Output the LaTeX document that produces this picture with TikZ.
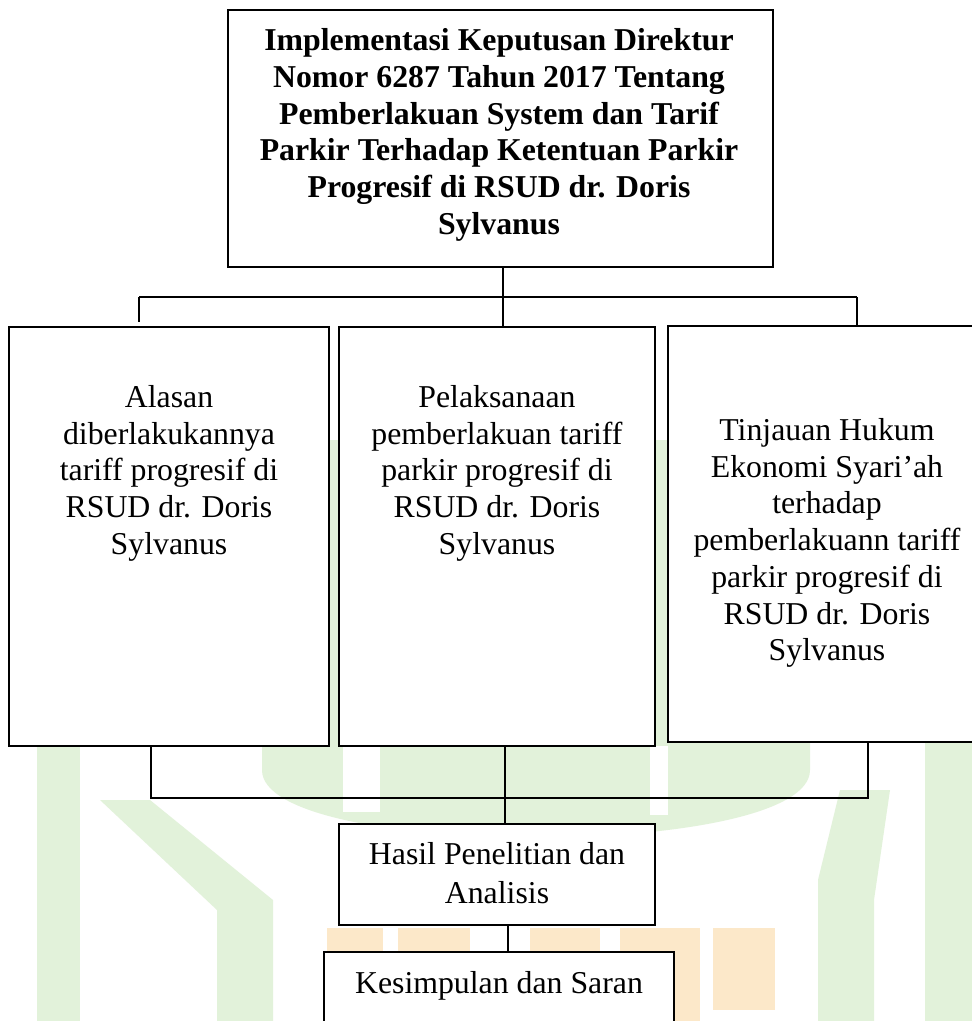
\documentclass[tikz,border=0pt]{standalone}
\usepackage{fontspec}
\setmainfont{Liberation Serif}
\definecolor{wmgreen}{HTML}{E2F2DA}
\definecolor{wmorange}{HTML}{FCE8C9}
\begin{document}
\begin{tikzpicture}[x=1pt,y=-1pt,
  box/.style={draw=black, line width=1.8pt, fill=white, inner sep=0pt, rectangle},
  txt/.style={align=center, inner sep=0pt, anchor=north, font=\fontsize{31.8}{36.7}\selectfont},
  link/.style={draw=black, line width=1.8pt}]
\useasboundingbox[fill=white] (0,0) rectangle (972,1021);
% faint watermark
\fill[wmgreen] (262,440) -- (810,440) -- (810,770) .. controls (810,860) and (262,860) .. (262,770) -- cycle;
\fill[white] (343,746) rectangle (380,812);
\fill[white] (650,746) rectangle (668,815);
\fill[wmgreen] (37,746) rectangle (80,1021);
\fill[wmgreen] (100,800) -- (150,800) -- (273,900) -- (273,1021) -- (217,1021) -- (217,910) -- cycle;
\fill[wmgreen] (890,790) -- (840,790) -- (818,880) -- (818,1021) -- (874,1021) -- (874,900) -- cycle;
\fill[wmgreen] (925,742) rectangle (972,1021);
\fill[wmorange] (327,928) rectangle (383,1021);
\fill[wmorange] (398,928) rectangle (470,1021);
\fill[wmorange] (530,928) rectangle (600,1021);
\fill[wmorange] (620,928) rectangle (700,1021);
\fill[wmorange] (713,928) rectangle (775,1010);
% boxes
\node[box, minimum width=545pt, minimum height=257pt] (top) at (500.5,138.5) {};
\node[box, minimum width=320pt, minimum height=419pt] (L) at (169,536.5) {};
\node[box, minimum width=316pt, minimum height=419pt] (M) at (497,536.5) {};
\node[box, minimum width=318pt, minimum height=416pt] (R) at (827,534) {};
\node[box, minimum width=316pt, minimum height=101pt] (H) at (497,874.5) {};
\node[box, minimum width=350pt, minimum height=88pt] (K) at (499,996) {};
% texts
\node[txt, font=\fontsize{31.8}{36.8}\selectfont\bfseries] (tt) at (499,28.3) {Implementasi Keputusan Direktur\\Nomor 6287 Tahun 2017 Tentang\\Pemberlakuan System dan Tarif\\Parkir Terhadap Ketentuan Parkir\\Progresif di RSUD dr. Doris\\Sylvanus};
\node[txt] (tl) at (169,385.3) {Alasan\\diberlakukannya\\tariff progresif di\\RSUD dr. Doris\\Sylvanus};
\node[txt] (tm) at (497,385.3) {Pelaksanaan\\pemberlakuan tariff\\parkir progresif di\\RSUD dr. Doris\\Sylvanus};
\node[txt] (tr) at (827,418.3) {Tinjauan Hukum\\Ekonomi Syari’ah\\terhadap\\pemberlakuann tariff\\parkir progresif di\\RSUD dr. Doris\\Sylvanus};
\node[txt, font=\fontsize{31.8}{38.5}\selectfont] (th) at (497,842.3) {Hasil Penelitian dan\\Analisis};
\node[txt] (tk) at (499,971.3) {Kesimpulan dan Saran};
% connectors
\coordinate (jt) at (503,297);
\coordinate (jl) at (139,297);
\coordinate (jr) at (857,297);
\coordinate (jle) at (139,322);
\draw[link] (jt |- top.south) -- (jt);
\draw[link] (jl) -- (jr);
\draw[link] (jl) -- (jle);
\draw[link] (jt) -- (jt |- M.north);
\draw[link] (jr) -- (jr |- R.north);
\coordinate (bl) at (151,798);
\coordinate (br) at (868,798);
\coordinate (bm) at (505,798);
\draw[link] (bl |- L.south) -- (bl) -- (br) -- (br |- R.south);
\draw[link] (bm |- M.south) -- (bm |- H.north);
\coordinate (hk) at (508,938);
\draw[link] (hk |- H.south) -- (hk |- K.north);
\end{tikzpicture}
\end{document}
